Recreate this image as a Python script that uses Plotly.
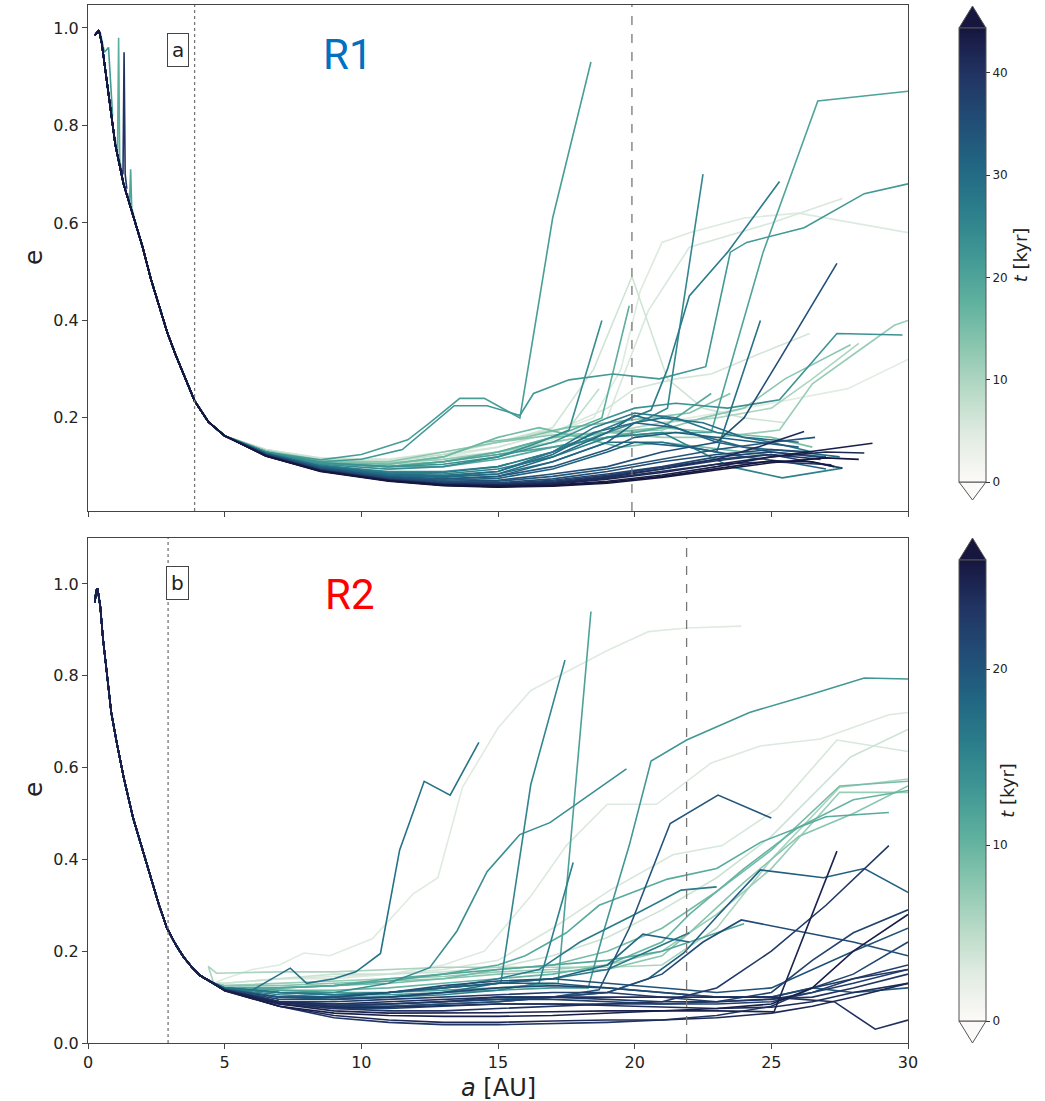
import plotly.graph_objects as go
from plotly.colors import sample_colorscale

# ---------------- data ----------------
# shared inner trunk of the e(a) profiles
trunk_top_a = [0.25, 0.32, 0.4, 0.5, 0.65, 0.8, 1.0, 1.3, 1.65, 2.0, 2.3, 2.6, 2.9, 3.2, 3.5, 3.9, 4.4, 5.0]
trunk_top_e = [0.985, 0.99, 0.995, 0.97, 0.91, 0.85, 0.76, 0.68, 0.615, 0.55, 0.485, 0.43, 0.375, 0.33, 0.29, 0.235, 0.192, 0.163]

trunk_bot_a = [0.25, 0.3, 0.35, 0.45, 0.55, 0.7, 0.85, 1.05, 1.3, 1.65, 2.0, 2.27, 2.6, 2.88, 3.2, 3.49, 3.8, 4.1, 4.6]
trunk_bot_e = [0.96, 0.985, 0.99, 0.95, 0.88, 0.80, 0.72, 0.655, 0.58, 0.49, 0.42, 0.365, 0.30, 0.252, 0.215, 0.188, 0.165, 0.147, 0.13]

# outer parts of each profile: (t [kyr], a [AU], e)
top_lines = [
    (5.0, [6.5, 8.5, 11, 13, 15, 17, 18.5, 19.5, 20.2, 21, 22, 24, 26, 28, 30], [0.135, 0.115, 0.11, 0.12, 0.14, 0.17, 0.2, 0.3, 0.46, 0.56, 0.58, 0.61, 0.62, 0.6, 0.58]),
    (5.5, [6.5, 8.5, 11, 13, 15, 17, 19, 20.5, 22, 25, 27.6], [0.135, 0.115, 0.108, 0.115, 0.13, 0.155, 0.2, 0.42, 0.55, 0.6, 0.65]),
    (4.5, [6.5, 8.5, 11, 13, 15, 17, 19, 21, 23, 25, 27.8, 30], [0.135, 0.117, 0.11, 0.12, 0.13, 0.15, 0.17, 0.19, 0.21, 0.23, 0.26, 0.32]),
    (6.0, [6.5, 8.5, 11, 13, 15, 17, 19, 20, 21.5, 22.8, 24.5, 26.4], [0.135, 0.115, 0.112, 0.125, 0.14, 0.17, 0.22, 0.26, 0.28, 0.29, 0.33, 0.373]),
    (6.5, [6.5, 8.5, 11, 13, 15, 17, 18.5, 19.9, 21.2, 22.5, 24, 25.5], [0.135, 0.118, 0.115, 0.13, 0.15, 0.18, 0.3, 0.49, 0.28, 0.22, 0.2, 0.19]),
    (8.0, [6.5, 8.5, 11, 13, 15, 16.5, 17.6, 18.7], [0.133, 0.115, 0.11, 0.125, 0.15, 0.17, 0.18, 0.26]),
    (10.0, [6.5, 8.5, 11, 13, 15, 17, 19, 21, 23, 25, 26.5, 28.2], [0.133, 0.113, 0.105, 0.11, 0.125, 0.15, 0.17, 0.19, 0.2, 0.22, 0.28, 0.353]),
    (12.0, [6.5, 8.5, 11, 13, 15, 17, 19, 21, 23, 25.3, 26.5, 28, 29.5, 30], [0.133, 0.112, 0.108, 0.115, 0.13, 0.15, 0.17, 0.16, 0.16, 0.175, 0.27, 0.33, 0.39, 0.40]),
    (13.0, [6.5, 8.5, 11, 13, 15, 17, 19, 21, 22.5, 24, 25.5, 27.9], [0.132, 0.11, 0.11, 0.13, 0.15, 0.165, 0.17, 0.175, 0.2, 0.22, 0.28, 0.35]),
    (14.0, [6.5, 8.5, 11, 13, 14.5, 16, 17.5, 19, 20.5, 22, 23.5], [0.132, 0.11, 0.105, 0.12, 0.15, 0.16, 0.18, 0.19, 0.2, 0.21, 0.25]),
    (15.0, [6.5, 8.5, 11, 13, 15, 17, 19, 21, 23, 25, 26.5], [0.13, 0.108, 0.1, 0.11, 0.13, 0.16, 0.17, 0.18, 0.17, 0.16, 0.14]),
    (16.0, [6.5, 8.5, 11, 13, 15, 16.5, 18, 19.5, 21, 22.5, 24, 25.5], [0.13, 0.108, 0.105, 0.12, 0.16, 0.18, 0.16, 0.14, 0.15, 0.14, 0.13, 0.12]),
    (18.0, [6.5, 8.5, 11, 13, 15, 17, 18.8, 19.8], [0.13, 0.107, 0.1, 0.11, 0.13, 0.16, 0.2, 0.43]),
    (19.0, [6.5, 8.5, 11, 13, 15, 17, 19, 21, 22.8], [0.13, 0.107, 0.1, 0.1, 0.115, 0.14, 0.16, 0.18, 0.25]),
    (20.0, [6.5, 8.5, 11, 13, 15, 17, 19, 21, 22.8, 24.7, 26.7, 28.4, 30], [0.13, 0.108, 0.1, 0.11, 0.125, 0.14, 0.16, 0.17, 0.17, 0.54, 0.85, 0.86, 0.87]),
    (21.0, [6.5, 8.5, 10, 11.7, 12.5, 13.6, 14.5, 15.8, 17.0, 18.4], [0.13, 0.114, 0.125, 0.155, 0.19, 0.24, 0.24, 0.20, 0.61, 0.93]),
    (22.0, [6.5, 8.5, 10, 11.5, 13.4, 14.6, 15.8, 16.3, 17.6, 19.2, 20.9, 22.6, 23.5, 24.1, 26.2, 28.4, 30], [0.13, 0.11, 0.115, 0.135, 0.225, 0.225, 0.205, 0.25, 0.278, 0.29, 0.28, 0.305, 0.54, 0.56, 0.59, 0.66, 0.68]),
    (23.0, [6.5, 8.5, 11, 13, 15, 17, 19, 20, 21.5, 23.4, 25.3, 27.4, 29.8], [0.13, 0.108, 0.1, 0.105, 0.12, 0.15, 0.2, 0.22, 0.23, 0.22, 0.237, 0.373, 0.37]),
    (24.0, [6.5, 8.5, 11, 13, 15, 16.5, 17.6, 18.8], [0.13, 0.105, 0.095, 0.1, 0.12, 0.15, 0.175, 0.40]),
    (25.0, [6.5, 8.5, 11, 13, 15, 17, 19, 20.5, 21.2, 22.5], [0.128, 0.103, 0.09, 0.09, 0.1, 0.13, 0.17, 0.2, 0.22, 0.70]),
    (26.0, [6.5, 8.5, 11, 13, 15, 17, 19, 21, 23.5, 25.4, 27.6], [0.128, 0.102, 0.087, 0.085, 0.095, 0.12, 0.16, 0.17, 0.1, 0.077, 0.097]),
    (27.0, [6.5, 8.5, 11, 13, 15, 17, 19, 20.6, 21.2, 22.0, 23.4, 25.3], [0.128, 0.102, 0.088, 0.088, 0.1, 0.13, 0.18, 0.216, 0.30, 0.45, 0.54, 0.685]),
    (28.0, [6.5, 8.5, 11, 13, 15, 17, 18.5, 20, 21.5, 23, 25, 26.5], [0.127, 0.1, 0.085, 0.082, 0.09, 0.13, 0.18, 0.21, 0.2, 0.17, 0.15, 0.13]),
    (29.0, [6.5, 8.5, 11, 13, 15, 17, 19, 21, 23, 24.6], [0.127, 0.1, 0.085, 0.08, 0.085, 0.11, 0.15, 0.15, 0.13, 0.40]),
    (29.5, [6.5, 8.5, 11, 13, 15, 17, 18.5, 20, 21, 22.5, 24, 26], [0.127, 0.1, 0.084, 0.08, 0.09, 0.125, 0.17, 0.19, 0.2, 0.19, 0.16, 0.15]),
    (30.0, [6.5, 8.5, 11, 13, 15, 17, 19, 20, 21, 22, 24, 26, 27.5], [0.127, 0.1, 0.082, 0.078, 0.085, 0.12, 0.17, 0.205, 0.19, 0.17, 0.14, 0.13, 0.12]),
    (31.0, [6.5, 8.5, 11, 13, 15, 17, 19, 20, 21.5, 23, 25, 27], [0.126, 0.098, 0.08, 0.075, 0.08, 0.11, 0.15, 0.19, 0.18, 0.15, 0.13, 0.12]),
    (32.0, [6.5, 8.5, 11, 13, 15, 17, 19, 20, 22, 24, 25.5, 27], [0.126, 0.097, 0.078, 0.072, 0.076, 0.095, 0.13, 0.15, 0.14, 0.12, 0.11, 0.095]),
    (33.0, [6.5, 8.5, 11, 13, 15, 17, 19, 20, 21.5, 23, 24.5, 26], [0.126, 0.097, 0.079, 0.074, 0.08, 0.1, 0.135, 0.16, 0.17, 0.16, 0.15, 0.14]),
    (34.0, [6.5, 8.5, 11, 13, 15, 17, 19, 21, 23, 25, 26.6], [0.125, 0.095, 0.076, 0.069, 0.07, 0.08, 0.095, 0.115, 0.135, 0.15, 0.16]),
    (35.0, [6.5, 8.5, 11, 13, 15, 17, 19, 21, 23, 24, 25.3, 27.4], [0.126, 0.096, 0.077, 0.07, 0.072, 0.085, 0.1, 0.13, 0.15, 0.2, 0.32, 0.517]),
    (36.0, [6.5, 8.5, 11, 13, 15, 17, 19, 21, 23, 25, 26.5], [0.125, 0.094, 0.075, 0.067, 0.067, 0.075, 0.09, 0.11, 0.125, 0.135, 0.13]),
    (37.0, [6.5, 8.5, 11, 13, 15, 17, 19, 21, 23, 25, 27], [0.124, 0.094, 0.074, 0.066, 0.065, 0.072, 0.085, 0.1, 0.12, 0.13, 0.118]),
    (38.0, [6.5, 8.5, 11, 13, 15, 17, 19, 21, 23, 25, 27.6], [0.124, 0.093, 0.074, 0.065, 0.064, 0.07, 0.082, 0.098, 0.115, 0.125, 0.097]),
    (39.0, [6.5, 8.5, 11, 13, 15, 17, 19, 21, 23, 25, 26.8], [0.124, 0.093, 0.073, 0.065, 0.063, 0.068, 0.08, 0.095, 0.112, 0.125, 0.115]),
    (40.0, [6.5, 8.5, 11, 13, 15, 17, 19, 21, 23, 25, 27.2], [0.123, 0.092, 0.073, 0.064, 0.062, 0.066, 0.076, 0.09, 0.105, 0.11, 0.104]),
    (41.0, [6.5, 8.5, 11, 13, 15, 17, 19, 21, 23, 24.5, 26.2], [0.123, 0.092, 0.072, 0.064, 0.062, 0.066, 0.078, 0.095, 0.115, 0.14, 0.172]),
    (42.0, [6.5, 8.5, 11, 13, 15, 17, 19, 21, 23, 25, 27, 28.4], [0.123, 0.092, 0.072, 0.063, 0.061, 0.064, 0.074, 0.088, 0.105, 0.12, 0.13, 0.128]),
    (43.0, [6.5, 8.5, 11, 13, 15, 17, 19, 21, 23, 25, 27, 28.7], [0.122, 0.091, 0.071, 0.062, 0.059, 0.062, 0.07, 0.083, 0.1, 0.12, 0.135, 0.148]),
    (44.0, [6.5, 8.5, 11, 13, 15, 17, 19, 21, 23, 25, 26.5, 27.3], [0.122, 0.091, 0.071, 0.062, 0.059, 0.061, 0.068, 0.08, 0.096, 0.112, 0.11, 0.1]),
    (44.4, [6.5, 8.5, 11, 13, 15, 17, 19, 21, 23, 25, 27, 28.2], [0.122, 0.09, 0.07, 0.061, 0.058, 0.06, 0.066, 0.078, 0.093, 0.108, 0.118, 0.115]),
]

# short jitter spikes near the star (top panel)
top_spikes = [
    (18.0, [1.0, 1.08, 1.12, 1.16, 1.25], [0.77, 0.74, 0.98, 0.73, 0.70]),
    (20.0, [1.45, 1.52, 1.56, 1.6, 1.7], [0.66, 0.64, 0.71, 0.63, 0.61]),
    (22.0, [0.3, 0.45, 0.6, 0.75, 0.9], [0.99, 0.99, 0.95, 0.96, 0.82]),
    (40.0, [1.2, 1.28, 1.32, 1.36, 1.42], [0.71, 0.70, 0.95, 0.70, 0.67]),
]

grid_b = [5, 7, 9, 11, 13, 15, 17, 19, 21, 23, 25, 26.5, 28, 30]

bot_lines = [
    (2.8, [5, 6, 7, 7.9, 8.85, 10.4, 11.9, 12.8, 13.7, 15, 16.2, 19, 20.5, 21.9, 23.9], [0.14, 0.16, 0.17, 0.196, 0.19, 0.227, 0.325, 0.36, 0.557, 0.686, 0.768, 0.855, 0.896, 0.904, 0.908]),
    (3.0, [5, 7, 9, 11, 13, 14.5, 16.2, 17.5, 19, 20.8, 22.8, 24.6, 26.8, 29.3, 30], [0.13, 0.14, 0.14, 0.15, 0.17, 0.2, 0.32, 0.43, 0.52, 0.52, 0.61, 0.647, 0.662, 0.715, 0.72]),
    (3.3, [5, 7, 9, 11, 13, 15, 17, 19.1, 21.4, 23.2, 25.2, 27.4, 30], [0.13, 0.14, 0.145, 0.15, 0.16, 0.18, 0.25, 0.333, 0.41, 0.43, 0.51, 0.66, 0.635]),
    (4.0, [5, 7, 9, 11, 13, 15, 17, 19, 21, 23, 25, 27.9, 30], [0.13, 0.14, 0.15, 0.15, 0.155, 0.165, 0.19, 0.23, 0.29, 0.36, 0.45, 0.623, 0.683]),
    (6.0, [4.4, 4.7, 5.5, 7, 9, 11, 13, 15, 17, 19, 21, 23, 25, 27.5, 30], [0.167, 0.152, 0.153, 0.155, 0.155, 0.16, 0.165, 0.165, 0.165, 0.165, 0.17, 0.25, 0.4, 0.557, 0.575]),
    (7.0, [5, 7, 9, 11, 13, 15, 17, 19, 21, 23, 25, 27.5, 30], [0.125, 0.13, 0.135, 0.14, 0.145, 0.155, 0.16, 0.17, 0.2, 0.28, 0.38, 0.546, 0.546]),
    (8.0, [5, 7, 9, 11, 13, 15, 17, 19, 21, 22, 24, 26, 28, 30], [0.125, 0.125, 0.13, 0.135, 0.14, 0.15, 0.155, 0.16, 0.19, 0.24, 0.35, 0.45, 0.5, 0.56]),
    (9.0, [5, 7, 9, 11, 13, 15, 17, 19, 21, 23, 25, 27.5, 30], [0.122, 0.12, 0.125, 0.13, 0.14, 0.16, 0.17, 0.2, 0.25, 0.33, 0.42, 0.56, 0.57]),
    (10.0, [5, 7, 9, 11, 13, 15, 17, 19, 21, 22, 24, 26, 28, 30], [0.12, 0.115, 0.115, 0.12, 0.13, 0.14, 0.15, 0.17, 0.22, 0.28, 0.38, 0.47, 0.53, 0.55]),
    (11.0, [5, 7, 9, 11, 13, 15, 16, 17.5, 18.7, 21.2, 23, 24.6, 27, 29.3], [0.12, 0.12, 0.125, 0.14, 0.15, 0.17, 0.19, 0.24, 0.30, 0.357, 0.38, 0.437, 0.493, 0.502]),
    (11.5, [5, 7, 9, 11, 13, 15, 17, 19, 21, 22.5, 24], [0.12, 0.12, 0.125, 0.135, 0.15, 0.16, 0.17, 0.18, 0.2, 0.23, 0.26]),
    (12.0, [5, 7, 9, 11, 13, 15, 17.2, 18.4], [0.12, 0.115, 0.11, 0.11, 0.115, 0.12, 0.13, 0.94]),
    (13.0, [5, 7, 9, 11, 13, 15, 17, 18.3, 18.9, 19.8, 20.6, 21.9, 24.2, 26.5, 28.4, 30], [0.12, 0.11, 0.105, 0.105, 0.11, 0.115, 0.12, 0.12, 0.25, 0.43, 0.614, 0.66, 0.72, 0.76, 0.795, 0.793]),
    (14.0, [5, 7, 9, 11, 12.5, 13.5, 14.6, 15.8, 16.9, 19.7], [0.12, 0.11, 0.11, 0.13, 0.164, 0.244, 0.373, 0.454, 0.48, 0.597]),
    (15.0, [5, 7, 9, 11, 13, 15.1, 16.2, 17.45], [0.12, 0.11, 0.105, 0.11, 0.12, 0.13, 0.563, 0.834]),
    (15.5, [5, 7, 9, 11, 13, 15, 16.5, 17.75], [0.118, 0.105, 0.1, 0.1, 0.105, 0.115, 0.13, 0.393]),
    (16.0, [5, 7, 9, 11, 13, 15, 16.5, 18, 20, 21.7, 23], [0.12, 0.11, 0.105, 0.11, 0.12, 0.14, 0.16, 0.22, 0.28, 0.333, 0.34]),
    (16.5, [5, 7, 9, 11, 13, 15, 17, 19, 20.5, 22], [0.12, 0.11, 0.105, 0.11, 0.12, 0.13, 0.14, 0.16, 0.2, 0.24]),
    (17.0, [5, 6, 7.4, 8, 9, 9.8, 10.7, 11.4, 12.3, 13.25, 14.3], [0.12, 0.115, 0.163, 0.13, 0.14, 0.155, 0.195, 0.42, 0.57, 0.54, 0.655]),
    (18.0, [5, 7, 9, 11, 13, 15, 17, 19, 20.3, 22], [0.118, 0.1, 0.095, 0.1, 0.11, 0.13, 0.14, 0.17, 0.237, 0.22]),
    (19.0, [5, 7, 9, 11, 13, 15, 17, 19, 20.5, 21.8, 23, 24.6, 26.9, 28.4, 30], [0.116, 0.09, 0.085, 0.085, 0.09, 0.095, 0.1, 0.11, 0.14, 0.196, 0.275, 0.377, 0.36, 0.38, 0.328]),
    (19.5, grid_b, [0.117, 0.1, 0.1, 0.11, 0.12, 0.13, 0.13, 0.12, 0.11, 0.1, 0.1, 0.12, 0.11, 0.12]),
    (20.0, [5, 7, 9, 11, 13, 15, 17, 18.7, 19.8, 21.3, 23.05, 25], [0.116, 0.09, 0.08, 0.08, 0.085, 0.09, 0.1, 0.116, 0.25, 0.478, 0.54, 0.49]),
    (20.5, grid_b, [0.116, 0.1, 0.1, 0.11, 0.125, 0.135, 0.14, 0.13, 0.12, 0.11, 0.12, 0.16, 0.2, 0.25]),
    (21.0, [5, 7, 9, 11, 13, 15, 17, 19, 21, 22.5, 23.9, 26.5, 28, 30], [0.115, 0.09, 0.08, 0.08, 0.085, 0.09, 0.1, 0.11, 0.15, 0.22, 0.268, 0.237, 0.22, 0.19]),
    (21.5, grid_b, [0.116, 0.095, 0.095, 0.1, 0.11, 0.12, 0.125, 0.12, 0.11, 0.1, 0.1, 0.12, 0.15, 0.22]),
    (22.0, grid_b, [0.115, 0.085, 0.075, 0.075, 0.08, 0.085, 0.085, 0.085, 0.085, 0.09, 0.11, 0.18, 0.24, 0.29]),
    (22.3, grid_b, [0.115, 0.088, 0.082, 0.085, 0.09, 0.095, 0.095, 0.09, 0.085, 0.085, 0.09, 0.11, 0.14, 0.17]),
    (22.5, grid_b, [0.115, 0.09, 0.09, 0.095, 0.1, 0.105, 0.11, 0.11, 0.1, 0.09, 0.095, 0.11, 0.13, 0.16]),
    (23.0, [5, 7, 9, 11, 13, 15, 17, 19, 21, 23, 25, 27, 29.3], [0.115, 0.09, 0.08, 0.085, 0.09, 0.1, 0.1, 0.095, 0.09, 0.12, 0.2, 0.3, 0.43]),
    (23.3, grid_b, [0.115, 0.08, 0.055, 0.045, 0.04, 0.04, 0.042, 0.045, 0.05, 0.06, 0.08, 0.12, 0.14, 0.16]),
    (23.6, grid_b, [0.115, 0.085, 0.075, 0.07, 0.07, 0.075, 0.08, 0.085, 0.09, 0.09, 0.095, 0.1, 0.12, 0.15]),
    (24.0, [5, 7, 9, 11, 13, 15, 17, 19, 21, 23, 25, 27.3, 28.8, 30], [0.115, 0.09, 0.085, 0.09, 0.095, 0.1, 0.1, 0.1, 0.1, 0.1, 0.1, 0.09, 0.03, 0.05]),
    (24.2, grid_b, [0.115, 0.088, 0.078, 0.078, 0.082, 0.085, 0.085, 0.082, 0.078, 0.075, 0.078, 0.09, 0.11, 0.13]),
    (24.5, grid_b, [0.114, 0.08, 0.06, 0.05, 0.045, 0.045, 0.048, 0.05, 0.05, 0.055, 0.065, 0.08, 0.1, 0.13]),
    (25.0, [5, 7, 9, 11, 13, 15, 17, 19, 21, 23, 25.1, 27.4], [0.115, 0.085, 0.07, 0.065, 0.065, 0.066, 0.068, 0.07, 0.07, 0.07, 0.068, 0.418]),
    (25.5, grid_b, [0.114, 0.08, 0.065, 0.06, 0.058, 0.058, 0.06, 0.065, 0.07, 0.075, 0.085, 0.12, 0.2, 0.28]),
]

top_tmax = 44.4
bot_tmax = 26.2
top_ticks = [0, 10, 20, 30, 40]
bot_ticks = [0, 10, 20]
x_ticks = [0, 5, 10, 15, 20, 25, 30]
top_vlines = {"dot": 3.9, "dash": 19.9}
bot_vlines = {"dot": 2.93, "dash": 21.9}

# ---------------- styling ----------------
W, H = 1045, 1101
ML, MR, MT, MB = 88, 137, 5, 58
PW, PH = W - ML - MR, H - MT - MB

tempo = [
    [0.0, "rgb(252,250,248)"], [0.1, "rgb(226,236,226)"], [0.2, "rgb(184,218,199)"],
    [0.3, "rgb(138,198,175)"], [0.4, "rgb(94,176,158)"], [0.5, "rgb(64,151,148)"],
    [0.6, "rgb(43,126,139)"], [0.7, "rgb(33,101,130)"], [0.8, "rgb(33,76,117)"],
    [0.9, "rgb(33,51,98)"], [1.0, "rgb(22,22,62)"],
]
FONT = "DejaVu Sans"


def px_x(p):
    return (p - ML) / PW


def px_y(p):
    return 1 - (p - MT) / PH


fig = go.Figure()


def add_lines(lines, trunk_a, trunk_e, tmax, xa, ya, use_trunk=True):
    for t, aa, ee in sorted(lines, key=lambda r: r[0]):
        col = sample_colorscale(tempo, [min(t / tmax, 1.0)])[0]
        xs = (list(trunk_a) if use_trunk else []) + list(aa)
        ys = (list(trunk_e) if use_trunk else []) + list(ee)
        fig.add_trace(go.Scatter(x=xs, y=ys, mode="lines", xaxis=xa, yaxis=ya,
                                 line=dict(color=col, width=1.6), showlegend=False,
                                 hoverinfo="skip"))


add_lines(top_spikes, [], [], top_tmax, "x", "y", use_trunk=False)
add_lines(top_lines, trunk_top_a, trunk_top_e, top_tmax, "x", "y")
add_lines(bot_lines, trunk_bot_a, trunk_bot_e, bot_tmax, "x2", "y2")

top_dom = [px_y(511), 1.0]
bot_dom = [0.0, px_y(538)]


def add_cbar(tmax, ticks, rect_top, rect_bot, xa, ya):
    fig.add_trace(go.Scatter(
        x=[None], y=[None], mode="markers", xaxis=xa, yaxis=ya, showlegend=False,
        hoverinfo="skip",
        marker=dict(colorscale=tempo, cmin=0, cmax=tmax, color=[0], showscale=True,
                    colorbar=dict(
                        x=px_x(959), xanchor="left", xpad=0, ypad=0,
                        y=px_y((rect_top + rect_bot) / 2), yanchor="middle",
                        len=(rect_bot - rect_top) / PH, lenmode="fraction",
                        thickness=27, thicknessmode="pixels",
                        outlinecolor="#555", outlinewidth=1,
                        tickvals=ticks, ticks="outside", ticklen=4, tickwidth=1,
                        tickcolor="#333", tickfont=dict(family=FONT, size=12, color="#222"),
                        title=dict(text="<i>t</i> [kyr]", side="right",
                                   font=dict(family=FONT, size=18, color="#222")),
                    ))))


add_cbar(top_tmax, top_ticks, 28, 482, "x", "y")
add_cbar(bot_tmax, bot_ticks, 560, 1021, "x2", "y2")

shapes = []


def tri(x0, x1, ybase, ytip, fill):
    xm = (x0 + x1) / 2
    path = "M {},{} L {},{} L {},{} Z".format(px_x(x0), px_y(ybase), px_x(x1), px_y(ybase), px_x(xm), px_y(ytip))
    shapes.append(dict(type="path", path=path, xref="paper", yref="paper",
                       fillcolor=fill, line=dict(color="#555", width=1)))


tri(959, 986, 28, 6, "rgb(22,22,62)")
tri(959, 986, 482, 500, "rgb(252,250,248)")
tri(959, 986, 560, 538, "rgb(22,22,62)")
tri(959, 986, 1021, 1043, "rgb(252,250,248)")

for style, xv in top_vlines.items():
    shapes.append(dict(type="line", xref="x", yref="y domain", x0=xv, x1=xv, y0=0, y1=1,
                       line=dict(color="#777", width=1.3, dash=style)))
for style, xv in bot_vlines.items():
    shapes.append(dict(type="line", xref="x2", yref="y2 domain", x0=xv, x1=xv, y0=0, y1=1,
                       line=dict(color="#777", width=1.3, dash=style)))

axis_common = dict(showline=True, mirror=True, linecolor="#444", linewidth=1,
                   ticks="outside", ticklen=5, tickcolor="#444", showgrid=False,
                   zeroline=False, tickfont=dict(family=FONT, size=16, color="#222"))

annotations = [
    dict(text="a", x=3.29, y=0.955, xref="x", yref="y", showarrow=False,
         xanchor="center", yanchor="middle",
         font=dict(family=FONT, size=20, color="#222"), bordercolor="#444",
         borderwidth=1, borderpad=4, bgcolor="white"),
    dict(text="b", x=3.29, y=1.002, xref="x2", yref="y2", showarrow=False,
         xanchor="center", yanchor="middle",
         font=dict(family=FONT, size=20, color="#222"), bordercolor="#444",
         borderwidth=1, borderpad=4, bgcolor="white"),
    dict(text="R1", x=9.5, y=0.945, xref="x", yref="y", showarrow=False,
         xanchor="center", yanchor="middle",
         font=dict(family="Roboto", size=42, color="#0070C0")),
    dict(text="R2", x=9.6, y=0.978, xref="x2", yref="y2", showarrow=False,
         xanchor="center", yanchor="middle",
         font=dict(family="Roboto", size=42, color="#FF0000")),
    dict(text="e", x=px_x(33), y=px_y(258), xref="paper", yref="paper", showarrow=False,
         xanchor="center", yanchor="middle",
         textangle=-90, font=dict(family=FONT, size=25, color="#222")),
    dict(text="e", x=px_x(33), y=px_y(790), xref="paper", yref="paper", showarrow=False,
         xanchor="center", yanchor="middle",
         textangle=-90, font=dict(family=FONT, size=25, color="#222")),
    dict(text="<i>a</i> [AU]", x=px_x(498), y=px_y(1088), xref="paper", yref="paper",
         xanchor="center", yanchor="middle",
         showarrow=False, font=dict(family=FONT, size=24, color="#222")),
]

fig.update_layout(
    width=W, height=H, margin=dict(l=ML, r=MR, t=MT, b=MB, autoexpand=False),
    paper_bgcolor="white", plot_bgcolor="white",
    xaxis=dict(axis_common, domain=[0, 1], anchor="y", range=[0, 30], tickvals=x_ticks,
               showticklabels=False),
    yaxis=dict(axis_common, domain=top_dom, anchor="x", range=[0.009, 1.047],
               tickvals=[0.2, 0.4, 0.6, 0.8, 1.0], tickformat=".1f"),
    xaxis2=dict(axis_common, domain=[0, 1], anchor="y2", range=[0, 30], tickvals=x_ticks,
                matches="x"),
    yaxis2=dict(axis_common, domain=bot_dom, anchor="x2", range=[0, 1.1],
                tickvals=[0.0, 0.2, 0.4, 0.6, 0.8, 1.0], tickformat=".1f"),
    shapes=shapes, annotations=annotations,
)

fig.write_html("out.html")
